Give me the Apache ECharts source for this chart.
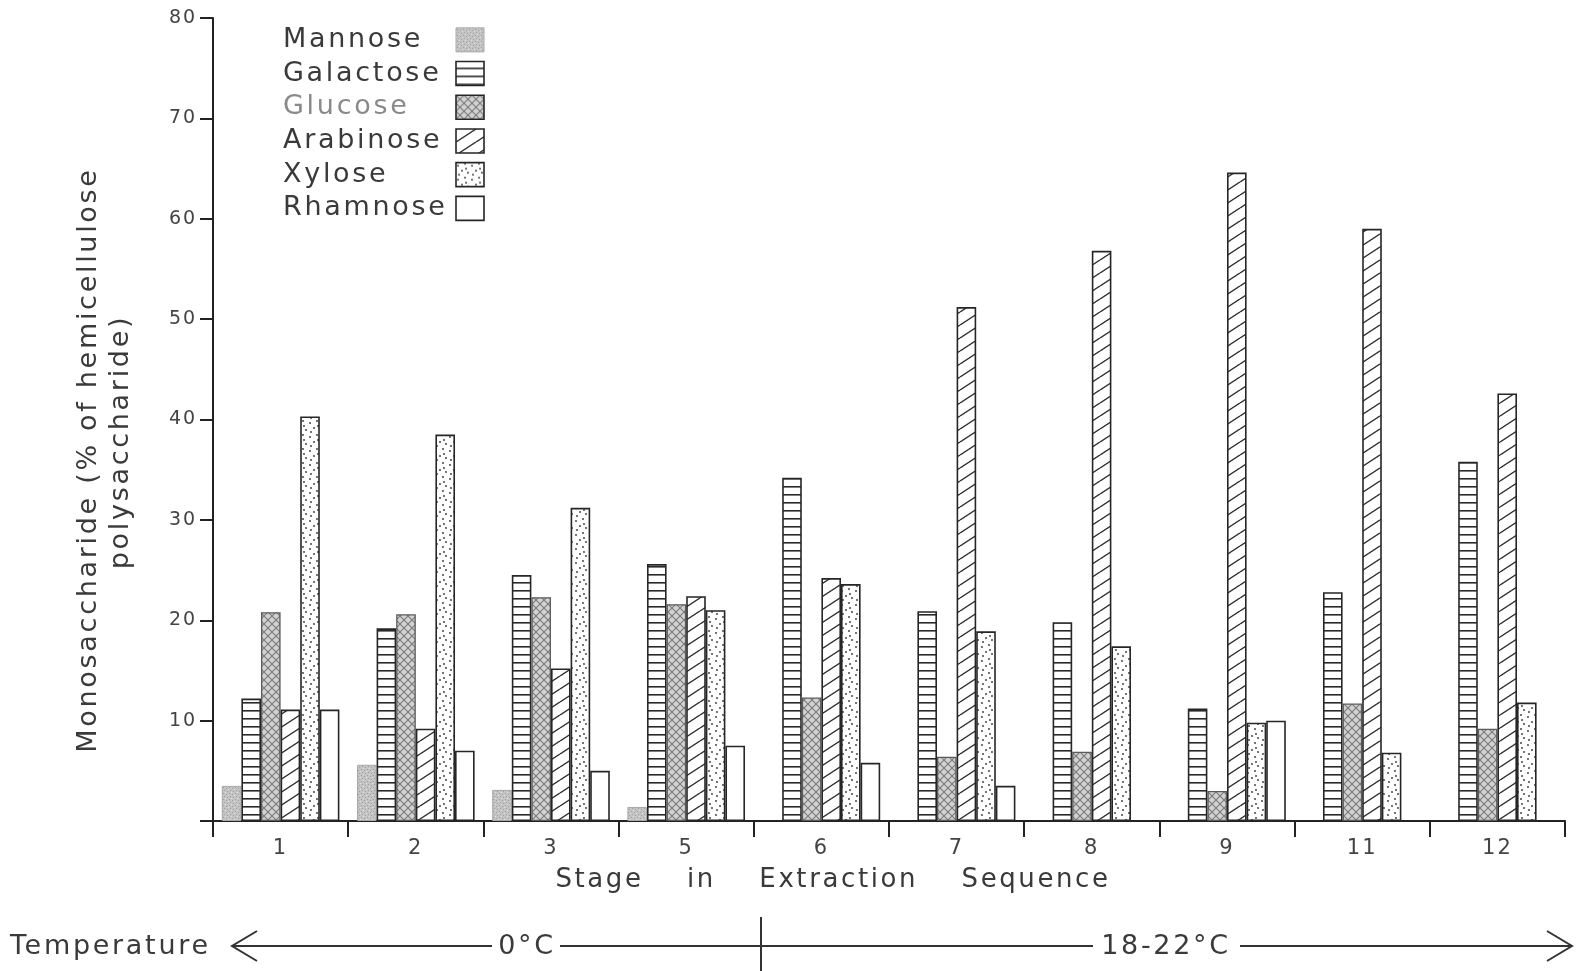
<!DOCTYPE html>
<html>
<head>
<meta charset="utf-8">
<script src="https://cdn.jsdelivr.net/npm/echarts@6/dist/echarts.min.js"></script>
<style>
html,body{margin:0;padding:0;background:#fff;}
#chart{width:1585px;height:971px;}
</style>
</head>
<body>
<div id="chart"></div>
<script>
// ---- data ----
const stages = ['1', '2', '3', '5', '6', '7', '8', '9', '11', '12'];
const seriesNames = ['Mannose', 'Galactose', 'Glucose', 'Arabinose', 'Xylose', 'Rhamnose'];
const mannose   = [3.5, 5.6, 3.1, 1.4, null, null, null, null, null, null];
const galactose = [12.2, 19.2, 24.5, 25.6, 34.2, 20.9, 19.8, 11.2, 22.8, 35.8];
const glucose   = [20.8, 20.6, 22.3, 21.6, 12.3, 6.4, 6.9, 3.0, 11.7, 9.2];
const arabinose = [11.1, 9.2, 15.2, 22.4, 24.2, 51.2, 56.8, 64.6, 59.0, 42.6];
const xylose    = [40.3, 38.5, 31.2, 21.0, 23.6, 18.9, 17.4, 9.8, 6.8, 11.8];
const rhamnose  = [11.1, 7.0, 5.0, 7.5, 5.8, 3.5, null, 10.0, null, null];
const yTicks = [0, 10, 20, 30, 40, 50, 60, 70, 80];

// wide letter tracking, like the hand-lettered original
(function () {
  const proto = CanvasRenderingContext2D.prototype;
  if (!('letterSpacing' in proto)) return;
  const d = Object.getOwnPropertyDescriptor(proto, 'font');
  Object.defineProperty(proto, 'font', {
    configurable: true,
    get() { return d.get.call(this); },
    set(v) {
      d.set.call(this, v);
      const m = /([\d.]+)px/.exec(v);
      this.letterSpacing = m ? (parseFloat(m[1]) * 0.1).toFixed(1) + 'px' : '0px';
    }
  });
})();

function makePattern(w, h, draw) {
  const c = document.createElement('canvas');
  c.width = w; c.height = h;
  const ctx = c.getContext('2d');
  draw(ctx, w, h);
  return { image: c, repeat: 'repeat' };
}
const patMannose = makePattern(6, 6, (ctx, w, h) => {
  ctx.fillStyle = '#c4c4c4'; ctx.fillRect(0, 0, w, h);
  ctx.fillStyle = '#9e9e9e';
  [[1,1],[4,2],[2,4],[5,5]].forEach(p => ctx.fillRect(p[0], p[1], 1, 1));
  ctx.fillStyle = '#e2e2e2';
  [[3,0],[0,3]].forEach(p => ctx.fillRect(p[0], p[1], 1, 1));
});
const patGalactose = makePattern(8, 8, (ctx, w, h) => {
  ctx.fillStyle = '#fff'; ctx.fillRect(0, 0, w, h);
  ctx.fillStyle = '#2a2a2a'; ctx.fillRect(0, 6, w, 1.6);
});
const patGlucose = makePattern(8, 8, (ctx, w, h) => {
  ctx.fillStyle = '#d2d2d2'; ctx.fillRect(0, 0, w, h);
  ctx.strokeStyle = '#7a7a7a'; ctx.lineWidth = 1.1;
  ctx.beginPath();
  ctx.moveTo(0, 0); ctx.lineTo(w, h);
  ctx.moveTo(w, 0); ctx.lineTo(0, h);
  ctx.stroke();
});
const patArabinose = makePattern(20, 13, (ctx, w, h) => {
  ctx.fillStyle = '#fff'; ctx.fillRect(0, 0, w, h);
  ctx.strokeStyle = '#2e2e2e'; ctx.lineWidth = 1.4;
  ctx.beginPath();
  for (let k = -1; k <= 1; k++) { ctx.moveTo(0, h + k * h); ctx.lineTo(w, k * h); }
  ctx.stroke();
});
const patXylose = makePattern(14, 14, (ctx, w, h) => {
  ctx.fillStyle = '#fff'; ctx.fillRect(0, 0, w, h);
  ctx.fillStyle = '#333';
  [[2,3],[9,1],[6,8],[12,10],[3,12],[10,6]].forEach(p => {
    ctx.beginPath(); ctx.arc(p[0], p[1], 0.9, 0, Math.PI * 2); ctx.fill();
  });
});

const seriesData = [mannose, galactose, glucose, arabinose, xylose, rhamnose];
const fills = [patMannose, patGalactose, patGlucose, patArabinose, patXylose, '#ffffff'];
const borders = ['#a8a8a8', '#262626', '#5a5a5a', '#262626', '#262626', '#262626'];
const borderWidths = [1, 1.6, 1.3, 1.6, 1.6, 1.6];

const FONT = 'DejaVu Sans';
const TXT = '#3a3a3a';

const chart = echarts.init(document.getElementById('chart'), null, { renderer: 'canvas' });
chart.setOption({
  animation: false,
  backgroundColor: '#ffffff',
  grid: { left: 213, right: 20, top: 18, bottom: 150, containLabel: false },
  legend: {
    orient: 'vertical',
    left: 278,
    top: 20,
    align: 'right',
    itemWidth: 28,
    itemHeight: 24,
    itemGap: 4,
    selectedMode: false,
    icon: 'rect',
    itemStyle: { borderColor: '#262626', borderWidth: 1.6 },
    formatter: '{t|{name}}',
    textStyle: {
      fontFamily: FONT, fontSize: 27, color: TXT, lineHeight: 28,
      rich: { t: { width: 168, align: 'left', fontFamily: FONT, fontSize: 27, lineHeight: 28 } }
    },
    data: seriesNames.map(n => {
      const o = { name: n };
      if (n === 'Glucose') o.textStyle = { color: '#8a8a8a' };
      if (n === 'Mannose') o.itemStyle = { borderColor: '#a8a8a8', borderWidth: 1 };
      return o;
    })
  },
  xAxis: {
    type: 'category',
    data: stages,
    boundaryGap: true,
    axisLine: { lineStyle: { color: '#222', width: 2 } },
    axisTick: { show: true, inside: false, length: 16, alignWithLabel: false, interval: 0, lineStyle: { color: '#222', width: 2 } },
    axisLabel: { interval: 0, margin: 16, fontFamily: FONT, fontSize: 21, color: '#444' },
    splitLine: { show: false }
  },
  yAxis: {
    type: 'value',
    min: yTicks[0],
    max: yTicks[yTicks.length - 1],
    interval: 10,
    axisLine: { show: true, lineStyle: { color: '#222', width: 2 } },
    axisTick: { show: true, inside: false, length: 13, lineStyle: { color: '#222', width: 2 } },
    axisLabel: {
      margin: 16, fontFamily: FONT, fontSize: 19, color: '#444',
      formatter: v => (v === 0 ? '' : String(v))
    },
    splitLine: { show: false }
  },
  series: seriesNames.map((n, i) => ({
    name: n,
    type: 'bar',
    data: seriesData[i],
    barGap: '0%',
    barCategoryGap: '13%',
    itemStyle: { color: fills[i], borderColor: borders[i], borderWidth: borderWidths[i] },
    emphasis: { disabled: true }
  })),
  graphic: {
    elements: [
      { type: 'text', x: 89, y: 460, rotation: Math.PI / 2,
        style: { text: 'Monosaccharide (% of hemicellulose', font: '27px ' + FONT, fill: TXT, textAlign: 'center', textVerticalAlign: 'middle' } },
      { type: 'text', x: 121, y: 442, rotation: Math.PI / 2,
        style: { text: 'polysaccharide)', font: '27px ' + FONT, fill: TXT, textAlign: 'center', textVerticalAlign: 'middle' } },
      { type: 'text', x: 833, y: 880,
        style: { text: 'Stage    in    Extraction    Sequence', font: '26px ' + FONT, fill: TXT, textAlign: 'center', textVerticalAlign: 'middle' } },
      { type: 'text', x: 10, y: 947,
        style: { text: 'Temperature', font: '27px ' + FONT, fill: TXT, textAlign: 'left', textVerticalAlign: 'middle' } },
      { type: 'polyline', shape: { points: [[257, 931], [232, 946], [257, 961]] }, style: { stroke: '#333', lineWidth: 2, fill: null } },
      { type: 'line', shape: { x1: 232, y1: 946, x2: 492, y2: 946 }, style: { stroke: '#333', lineWidth: 2 } },
      { type: 'text', x: 527, y: 947,
        style: { text: '0°C', font: '27px ' + FONT, fill: TXT, textAlign: 'center', textVerticalAlign: 'middle' } },
      { type: 'line', shape: { x1: 560, y1: 946, x2: 1093, y2: 946 }, style: { stroke: '#333', lineWidth: 2 } },
      { type: 'line', shape: { x1: 761, y1: 917, x2: 761, y2: 971 }, style: { stroke: '#333', lineWidth: 2 } },
      { type: 'text', x: 1166, y: 947,
        style: { text: '18-22°C', font: '27px ' + FONT, fill: TXT, textAlign: 'center', textVerticalAlign: 'middle' } },
      { type: 'line', shape: { x1: 1240, y1: 946, x2: 1572, y2: 946 }, style: { stroke: '#333', lineWidth: 2 } },
      { type: 'polyline', shape: { points: [[1547, 931], [1572, 946], [1547, 961]] }, style: { stroke: '#333', lineWidth: 2, fill: null } }
    ]
  }
});
</script>
</body>
</html>
